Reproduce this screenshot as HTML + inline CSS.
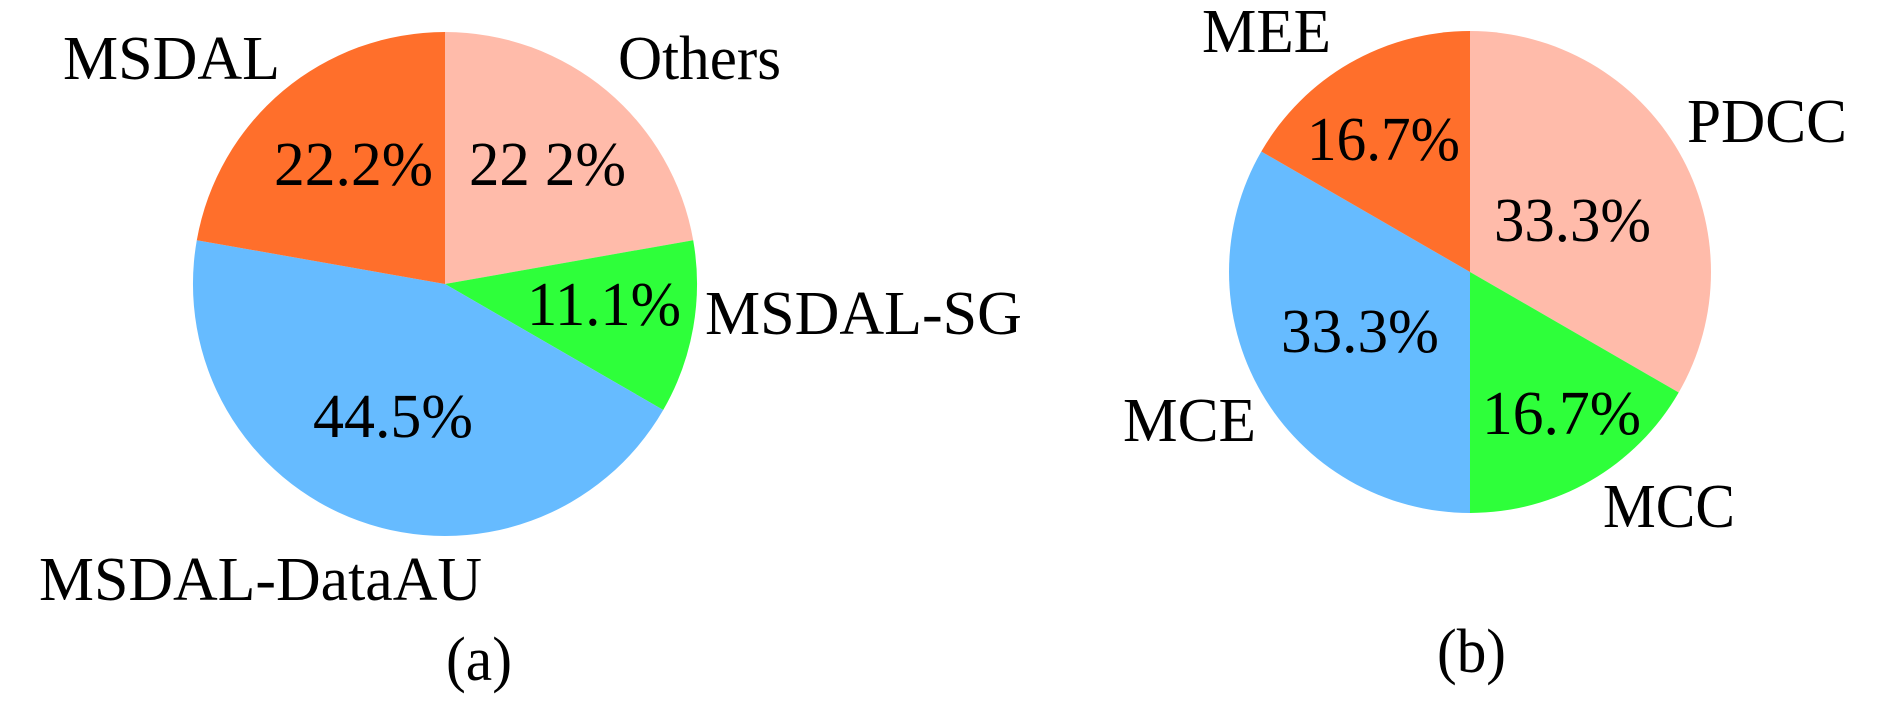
<!DOCTYPE html>
<html><head><meta charset="utf-8"><style>
html,body{margin:0;padding:0;background:#fff;}
svg{display:block;}
text{font-family:"Liberation Serif",serif;font-size:62px;fill:#000;}
</style></head><body>
<svg width="1890" height="707" viewBox="0 0 1890 707" xmlns="http://www.w3.org/2000/svg">
<rect width="1890" height="707" fill="#fff"/>
<!-- Pie a -->
<path d="M445,284 L445,32 A252,252 0 0 1 693.2,240.2 Z" fill="#FFBBAA"/>
<path d="M445,284 L693.2,240.2 A252,252 0 0 1 663.2,410 Z" fill="#2EFF3A"/>
<path d="M445,284 L663.2,410 A252,252 0 0 1 196.8,240.2 Z" fill="#66BBFF"/>
<path d="M445,284 L196.8,240.2 A252,252 0 0 1 445,32 Z" fill="#FF6F2B"/>
<text x="63" y="79" textLength="217" lengthAdjust="spacingAndGlyphs">MSDAL</text>
<text x="618" y="79" textLength="163" lengthAdjust="spacingAndGlyphs">Others</text>
<text x="274" y="185" textLength="159" lengthAdjust="spacingAndGlyphs">22.2%</text>
<text x="469" y="185" textLength="157" lengthAdjust="spacingAndGlyphs">22 2%</text>
<text x="527" y="325" textLength="154" lengthAdjust="spacingAndGlyphs">11.1%</text>
<text x="705" y="334">MSDAL-SG</text>
<text x="313" y="437" textLength="160" lengthAdjust="spacingAndGlyphs">44.5%</text>
<text x="39" y="600" textLength="443" lengthAdjust="spacingAndGlyphs">MSDAL-DataAU</text>
<text x="446" y="680" textLength="66" lengthAdjust="spacingAndGlyphs">(a)</text>
<!-- Pie b -->
<path d="M1470,272 L1470,31 A241,241 0 0 1 1678.7,392.5 Z" fill="#FFBBAA"/>
<path d="M1470,272 L1678.7,392.5 A241,241 0 0 1 1470,513 Z" fill="#2EFF3A"/>
<path d="M1470,272 L1470,513 A241,241 0 0 1 1261.3,151.5 Z" fill="#66BBFF"/>
<path d="M1470,272 L1261.3,151.5 A241,241 0 0 1 1470,31 Z" fill="#FF6F2B"/>
<text x="1202" y="52" textLength="129" lengthAdjust="spacingAndGlyphs">MEE</text>
<text x="1307" y="160" textLength="153" lengthAdjust="spacingAndGlyphs">16.7%</text>
<text x="1687" y="142" textLength="160" lengthAdjust="spacingAndGlyphs">PDCC</text>
<text x="1494" y="241" textLength="157" lengthAdjust="spacingAndGlyphs">33.3%</text>
<text x="1281" y="352" textLength="158" lengthAdjust="spacingAndGlyphs">33.3%</text>
<text x="1123" y="441" textLength="133" lengthAdjust="spacingAndGlyphs">MCE</text>
<text x="1482" y="434" textLength="159" lengthAdjust="spacingAndGlyphs">16.7%</text>
<text x="1603" y="527" textLength="132" lengthAdjust="spacingAndGlyphs">MCC</text>
<text x="1437" y="672" textLength="69" lengthAdjust="spacingAndGlyphs">(b)</text>
</svg>
</body></html>
